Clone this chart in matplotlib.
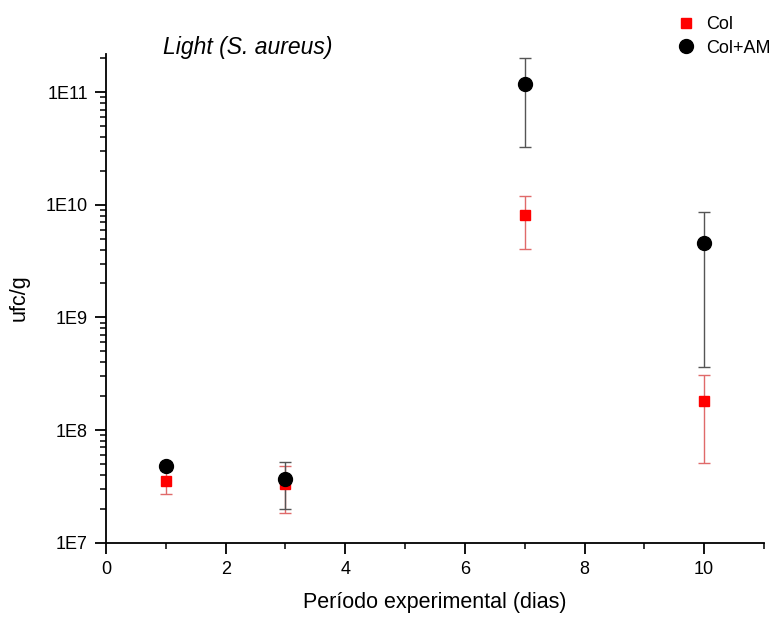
import matplotlib
matplotlib.use('Agg')
import matplotlib.pyplot as plt
from matplotlib.ticker import LogLocator, FuncFormatter, MultipleLocator
import numpy as np

plt.rcParams['font.family'] = ['Liberation Sans', 'DejaVu Sans']

# days
dias = [1, 3, 7, 10]

# Col (red squares)
col = [3.5e7, 3.3e7, 8.1e9, 1.81e8]
col_low = [2.7e7, 1.85e7, 4.04e9, 5.1e7]
col_high = [4.4e7, 4.8e7, 1.2e10, 3.08e8]

# Col+AM (black circles)
colam = [4.8e7, 3.65e7, 1.17e11, 4.54e9]
colam_low = [4.4e7, 1.98e7, 3.26e10, 3.6e8]
colam_high = [5.2e7, 5.2e7, 1.99e11, 8.6e9]

fig = plt.figure(figsize=(7.75, 6.2), dpi=100)
ax = fig.add_axes([0.1368, 0.1247, 0.849, 0.789])

def yerr(v, lo, hi):
    v = np.array(v); lo = np.array(lo); hi = np.array(hi)
    return [v - lo, hi - v]

ax.errorbar(dias, col, yerr=yerr(col, col_low, col_high), fmt='none',
            ecolor='#e06a6a', elinewidth=1, capsize=4, capthick=1)
ax.errorbar(dias, colam, yerr=yerr(colam, colam_low, colam_high), fmt='none',
            ecolor='#555555', elinewidth=1, capsize=4, capthick=1)
ax.plot(dias, col, 's', color='#ff0000', markersize=7.5, linestyle='none', label='Col', zorder=3)
ax.plot(dias, colam, 'o', color='black', markersize=10, linestyle='none', label='Col+AM', zorder=4)

ax.set_yscale('log')
ax.set_ylim(1e7, 2.2e11)
ax.set_xlim(0, 11)

ax.xaxis.set_major_locator(MultipleLocator(2))
ax.xaxis.set_minor_locator(MultipleLocator(1))
ax.yaxis.set_major_locator(LogLocator(base=10, numticks=10))
ax.yaxis.set_minor_locator(LogLocator(base=10, subs=np.arange(2, 10), numticks=20))
ax.yaxis.set_major_formatter(FuncFormatter(lambda v, p: '1E%d' % round(np.log10(v))))

for s in ['top', 'right']:
    ax.spines[s].set_visible(False)
for s in ['left', 'bottom']:
    ax.spines[s].set_linewidth(1.3)

ax.tick_params(axis='both', which='major', direction='out', length=8, width=1.3, labelsize=13)
ax.tick_params(axis='x', which='major', pad=5)
ax.tick_params(axis='y', which='major', pad=5)
ax.tick_params(axis='both', which='minor', direction='out', length=4, width=1.1)

ax.set_xlabel('Período experimental (dias)', fontsize=15.5, labelpad=10)
ax.set_ylabel('ufc/g', fontsize=15.5, labelpad=12)

fig.text(0.21, 0.924, 'Light (S. aureus)', fontsize=16.5,
         style='italic', ha='left', va='center')

fig.legend(loc='upper left', bbox_to_anchor=(0.853, 1.0), frameon=False,
           fontsize=13, handletextpad=0.6, labelspacing=0.35, handlelength=1.0)

fig.savefig('out.png', dpi=100)
